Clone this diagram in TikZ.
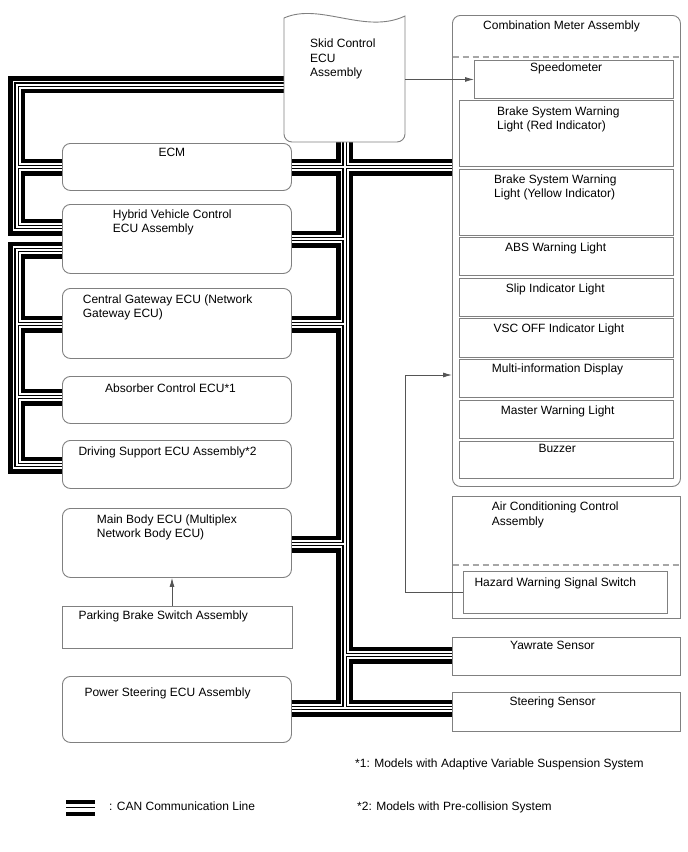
\documentclass[tikz,border=0pt]{standalone}
\usepackage{fontspec}
\setmainfont{Liberation Sans}
\usetikzlibrary{arrows.meta}
\pgfdeclarelayer{background}
\pgfsetlayers{background,main}
\definecolor{bord}{HTML}{808080}
\definecolor{dashgray}{HTML}{A6A6A6}
\definecolor{arrc}{HTML}{555555}
\newcommand\canpaths[1]{%
  \draw[#1] (skid.west |- yTop) -- (xL |- yTop) -- (xL |- yHVa) -- (hv.west |- yHVa);
  \draw[#1] (xL |- yECM) -- (ecm.west |- yECM);
  \draw[#1] (hv.west |- yHVb) -- (xL |- yHVb) -- (xL |- yDS) -- (ds.west |- yDS);
  \draw[#1] (xL |- yCG) -- (cg.west |- yCG);
  \draw[#1] (xL |- yAbs) -- (absorb.west |- yAbs);
  \draw[#1] (skid.south -| xR) -- (xR |- yBot);
  \draw[#1] (ecm.east |- yECM) -- (combo.west |- yECM);
  \draw[#1] (xR |- yHVR) -- (hv.east |- yHVR);
  \draw[#1] (xR |- yCG) -- (cg.east |- yCG);
  \draw[#1] (xR |- yMB) -- (mb.east |- yMB);
  \draw[#1] (xR |- yYaw) -- (yaw.west |- yYaw);
  \draw[#1] (ps.east |- yBot) -- (steer.west |- yBot);
}
\begin{document}
\begin{tikzpicture}[x=1pt, y=-1pt,
  box/.style={draw=bord, line width=0.9pt, fill=white, rectangle, inner sep=0pt, anchor=north west},
  rbox/.style={box, rounded corners=8pt},
  lbl/.style={inner sep=0pt, anchor=base west, align=left, font=\fontsize{12}{14.3}\selectfont},
  arr/.style={draw=arrc, line width=0.8pt, -{Latex[length=9pt,width=5pt]}},
  sepline/.style={draw=dashgray, line width=1.1pt, dash pattern=on 6pt off 4pt},
  legbar/.style={draw=black, line cap=butt}
]
\useasboundingbox (0,0) rectangle (688,852);

% coordinates for bus routing
\coordinate (xL) at (16.5,0);
\coordinate (xR) at (344.5,0);
\coordinate (yTop) at (0,84.5);
\coordinate (yECM) at (0,167);
\coordinate (yHVa) at (0,227);
\coordinate (yHVb) at (0,250);
\coordinate (yCG) at (0,324);
\coordinate (yAbs) at (0,397);
\coordinate (yDS) at (0,465);
\coordinate (yHVR) at (0,239);
\coordinate (yMB) at (0,544);
\coordinate (yYaw) at (0,655);
\coordinate (yBot) at (0,708);

% Skid Control ECU (document shape)
\node[inner sep=0pt, minimum width=121pt, minimum height=127pt, anchor=north west] (skid) at (284,15) {};
\draw[draw=bord, line width=0.9pt, fill=white] (284,60) [rounded corners=8pt] -- (284,142) -- (405,142) -- (405,60) [sharp corners] -- (405,16) .. controls (365,35) and (320,2) .. (284,18) -- cycle;
\node[lbl] (tSkid) at (310,76.5) {Skid Control\\ECU\\Assembly};

% left column
\node[rbox, minimum width=229pt, minimum height=47pt] (ecm) at (62,143) {};
\node[rbox, minimum width=229pt, minimum height=69pt] (hv) at (62,204) {};
\node[rbox, minimum width=229pt, minimum height=70pt] (cg) at (62,288) {};
\node[rbox, minimum width=229pt, minimum height=47pt] (absorb) at (62,376) {};
\node[rbox, minimum width=229pt, minimum height=48pt] (ds) at (62,440) {};
\node[rbox, minimum width=229pt, minimum height=69pt] (mb) at (62,508) {};
\node[box, minimum width=230pt, minimum height=42pt] (park) at (62,606) {};
\node[rbox, minimum width=229pt, minimum height=66pt] (ps) at (62,676) {};

\node[lbl] (tEcm) at (158.3,156.7) {ECM};
\node[lbl] (tHv) at (112.7,232.3) {Hybrid Vehicle Control\\ECU Assembly};
\node[lbl] (tCg) at (82.7,317.3) {Central Gateway ECU (Network\\Gateway ECU)};
\node[lbl] (tAbsorb) at (105,392.3) {Absorber Control ECU*1};
\node[lbl] (tDs) at (78.3,455.7) {Driving Support ECU Assembly*2};
\node[lbl] (tMb) at (96.7,537.3) {Main Body ECU (Multiplex\\Network Body ECU)};
\node[lbl] (tPark) at (78.3,619.3) {Parking Brake Switch Assembly};
\node[lbl] (tPs) at (84.3,696.7) {Power Steering ECU Assembly};

% combination meter
\node[rbox, minimum width=228pt, minimum height=471pt] (combo) at (452,15) {};
\draw[sepline] (452.5,57) -- (679.5,57);
\node[box, minimum width=199pt, minimum height=38pt] (speedo) at (474,60) {};
\node[box, minimum width=214pt, minimum height=66pt] (red) at (459,100) {};
\node[box, minimum width=214pt, minimum height=66pt] (yel) at (459,169) {};
\node[box, minimum width=214pt, minimum height=38pt] (absl) at (459,237) {};
\node[box, minimum width=214pt, minimum height=38pt] (slip) at (459,278) {};
\node[box, minimum width=214pt, minimum height=39pt] (vsc) at (459,318) {};
\node[box, minimum width=214pt, minimum height=38pt] (multi) at (459,359) {};
\node[box, minimum width=214pt, minimum height=38pt] (master) at (459,400) {};
\node[box, minimum width=214pt, minimum height=37pt] (buzz) at (459,441) {};

\node[lbl] (tCombo) at (483,29.3) {Combination Meter Assembly};
\node[lbl] (tSpeedo) at (530,71.7) {Speedometer};
\node[lbl] (tRed) at (497,129.3) {Brake System Warning\\Light (Red Indicator)};
\node[lbl] (tYel) at (494,197.3) {Brake System Warning\\Light (Yellow Indicator)};
\node[lbl] (tAbsl) at (505,251.3) {ABS Warning Light};
\node[lbl] (tSlip) at (505.7,292.3) {Slip Indicator Light};
\node[lbl] (tVsc) at (493.3,332.3) {VSC OFF Indicator Light};
\node[lbl] (tMulti) at (491.7,372.7) {Multi-information Display};
\node[lbl] (tMaster) at (500.7,414) {Master Warning Light};
\node[lbl] (tBuzz) at (538.3,452.7) {Buzzer};

% air conditioning
\node[box, minimum width=228pt, minimum height=122pt] (ac) at (452,496) {};
\draw[sepline] (452.5,565) -- (679.5,565);
\node[box, minimum width=204pt, minimum height=42pt] (haz) at (463,571) {};
\node[lbl] (tAc) at (491.7,525) {Air Conditioning Control\\Assembly};
\node[lbl] (tHaz) at (474.3,586) {Hazard Warning Signal Switch};

% sensors
\node[box, minimum width=228pt, minimum height=38pt] (yaw) at (452,637) {};
\node[box, minimum width=228pt, minimum height=39pt] (steer) at (452,692) {};
\node[lbl] (tYaw) at (510,649.3) {Yawrate Sensor};
\node[lbl] (tSteer) at (509.3,705) {Steering Sensor};

% thin arrows
\coordinate (hk) at (405,375);
\coordinate (pk) at (172,0);
\draw[arr] (skid.east |- speedo.west) -- (speedo.west);
\draw[arr] (haz.west) -| (hk) -- (combo.west |- hk);
\draw[arr] (park.north -| pk) -- (mb.south -| pk);

% CAN bus lines (layered, behind the boxes)
\begin{pgfonlayer}{background}
\fill[white] (0,0) rectangle (688,852);
\canpaths{line width=17pt, black, line join=miter}
\canpaths{line width=8pt, white, line join=miter}
\canpaths{line width=4.4pt, black, line join=miter}
\canpaths{line width=2pt, white, line join=miter}
\end{pgfonlayer}

% footnotes and legend
\node[lbl] (tN1) at (355,767) {*1: Models with Adaptive Variable Suspension System};
\node[lbl] (tN2) at (357,810) {*2: Models with Pre-collision System};
\draw[legbar, line width=4.3pt] (66,802) -- (95,802);
\draw[legbar, line width=1.6pt] (66,807.5) -- (95,807.5);
\draw[legbar, line width=4.3pt] (66,814) -- (95,814);
\node[lbl] (tLeg) at (109,810) {: CAN Communication Line};
\end{tikzpicture}
\end{document}
